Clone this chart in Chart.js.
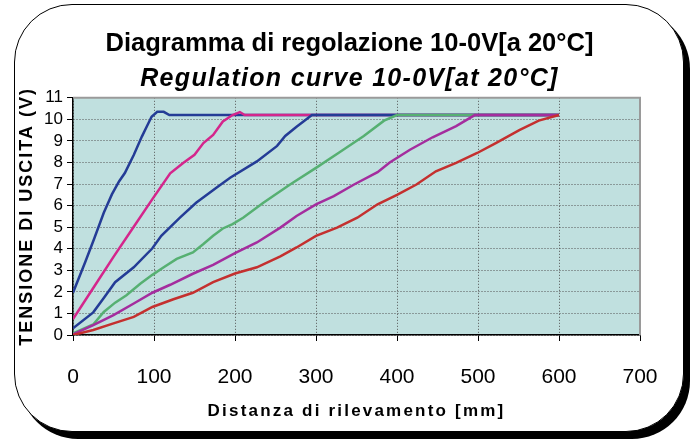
<!DOCTYPE html>
<html>
<head>
<meta charset="utf-8">
<script src="https://cdn.jsdelivr.net/npm/chart.js@4.4.0/dist/chart.umd.min.js"></script>
<style>
  html, body { margin: 0; padding: 0; background: #fff; }
  body { width: 699px; height: 441px; position: relative; overflow: hidden; }
  #card {
    position: absolute; left: 14px; top: 4px; width: 670px; height: 428px;
    box-sizing: border-box; border: 1.5px solid #000; border-radius: 58px;
    box-shadow: 6px 7px 0 #000; background: #fff;
  }
  #wrap { position: absolute; left: 0; top: 0; width: 699px; height: 441px; }
</style>
</head>
<body>
<div id="card"></div>
<div id="wrap"><canvas id="chart" width="699" height="441"></canvas></div>
<script>
// distance [mm] / output voltage [V], one pair per curve
const dist1 = [0, 15, 26, 38, 48, 57, 64, 75, 85, 92, 97, 104, 112, 119, 600];
const volt1 = [1.96, 3.37, 4.45, 5.67, 6.52, 7.13, 7.51, 8.35, 9.2, 9.74, 10.12, 10.35, 10.35, 10.2, 10.2];

const dist2 = [0, 25, 50, 75, 98, 120, 136, 150, 161, 173, 185, 197, 206, 212, 600];
const volt2 = [0.74, 2.18, 3.62, 5.02, 6.3, 7.5, 7.98, 8.36, 8.9, 9.28, 9.9, 10.2, 10.34, 10.2, 10.2];

const dist3 = [0, 25, 38, 52, 75, 98, 109, 132, 152, 177, 194, 227, 252, 262, 276, 295, 600];
const volt3 = [0.31, 1.05, 1.72, 2.45, 3.14, 4.02, 4.6, 5.44, 6.13, 6.83, 7.29, 8.05, 8.77, 9.23, 9.66, 10.2, 10.2];

const dist4 = [0, 25, 38, 52, 66, 83, 98, 112, 128, 148, 161, 173, 185, 197, 210, 235, 268, 300, 330, 359, 384, 400, 600];
const volt4 = [0.08, 0.49, 1.07, 1.5, 1.84, 2.38, 2.79, 3.14, 3.53, 3.83, 4.22, 4.6, 4.94, 5.14, 5.44, 6.13, 6.98, 7.75, 8.5, 9.23, 9.94, 10.2, 10.2];

const dist5 = [0, 25, 50, 75, 98, 120, 148, 173, 200, 227, 256, 276, 300, 322, 347, 376, 391, 416, 444, 473, 496, 600];
const volt5 = [0.03, 0.46, 0.92, 1.46, 1.96, 2.33, 2.84, 3.25, 3.8, 4.29, 4.98, 5.52, 6.06, 6.44, 6.98, 7.55, 8.0, 8.59, 9.17, 9.69, 10.2, 10.2];

const dist6 = [0, 25, 50, 75, 98, 124, 148, 173, 200, 227, 256, 276, 300, 326, 351, 376, 400, 424, 448, 473, 499, 522, 551, 575, 600];
const volt6 = [0, 0.23, 0.54, 0.84, 1.3, 1.66, 1.96, 2.45, 2.85, 3.14, 3.65, 4.06, 4.6, 4.98, 5.44, 6.06, 6.5, 6.98, 7.59, 7.98, 8.44, 8.9, 9.5, 9.94, 10.2];

const curveColors = ["#243c96", "#d4268c", "#243c96", "#56b072", "#a42d9e", "#c4302f"];

const titleText = "Diagramma di regolazione 10-0V[a 20°C]";
const subtitleText = "Regulation curve 10-0V[at 20°C]";
const xTitle = "Distanza di rilevamento [mm]";
const yTitle = "TENSIONE DI USCITA (V)";

const font = "'Liberation Sans', Arial, sans-serif";

const curves = [
  [dist1, volt1], [dist2, volt2], [dist3, volt3],
  [dist4, volt4], [dist5, volt5], [dist6, volt6],
];

const datasets = curves.map(([xs, ys], i) => ({
  data: xs.map((x, k) => ({ x, y: ys[k] })),
  borderColor: curveColors[i],
  borderWidth: 2.5,
  pointRadius: 0,
  tension: 0,
  fill: false,
  order: curves.length - i,
}));

// the original texts are spaced out a little, canvas can do that per draw call
function wrapSpacing(obj, method, spacing) {
  if (!obj || obj["_spaced_" + method]) return;
  const orig = obj[method];
  obj[method] = function (...args) {
    this.ctx.save();
    this.ctx.letterSpacing = spacing;
    orig.apply(this, args);
    this.ctx.restore();
  };
  obj["_spaced_" + method] = true;
}

const letterSpacing = {
  id: "letterSpacing",
  afterLayout(chart) {
    wrapSpacing(chart.scales.x, "drawTitle", "2.2px");
    wrapSpacing(chart.scales.y, "drawTitle", "2px");
    const sub = chart.boxes.find((b) => b.options && b.options.text === subtitleText);
    wrapSpacing(sub, "draw", "1.3px");
  },
};

const plotFrame = {
  id: "plotFrame",
  beforeDraw(chart) {
    const { ctx, chartArea: a } = chart;
    ctx.save();
    ctx.fillStyle = "#c0e0df";
    ctx.fillRect(a.left, a.top, a.right - a.left, a.bottom - a.top);
    ctx.restore();
  },
  beforeDatasetsDraw(chart) {
    const { ctx, chartArea: a } = chart;
    ctx.save();
    ctx.strokeStyle = "#9a9a9a";
    ctx.lineWidth = 2;
    ctx.beginPath();
    ctx.moveTo(a.left, a.top);
    ctx.lineTo(a.right, a.top);
    ctx.lineTo(a.right, a.bottom);
    ctx.stroke();
    ctx.restore();
  },
};

new Chart(document.getElementById("chart"), {
  type: "line",
  data: { datasets },
  plugins: [plotFrame, letterSpacing],
  options: {
    responsive: false,
    animation: false,
    devicePixelRatio: 1,
    layout: { padding: 0 },
    plugins: {
      legend: { display: false },
      tooltip: { enabled: false },
      title: {
        display: true,
        text: titleText,
        color: "#000",
        font: { family: font, size: 25.5, weight: "bold" },
        padding: { top: 29, bottom: 4.6 },
      },
      subtitle: {
        display: true,
        text: subtitleText,
        color: "#000",
        font: { family: font, size: 25, weight: "bold", style: "italic" },
        padding: { top: 0, bottom: 3.6 },
      },
    },
    scales: {
      x: {
        type: "linear",
        min: 0,
        max: 700,
        ticks: { stepSize: 100, color: "#000", padding: 24, font: { family: font, size: 21 } },
        grid: { color: "#555", tickColor: "#000", tickLength: 6, tickBorderDash: [] },
        border: { color: "#000", width: 1.5, dash: [1, 2] },
        title: {
          display: true,
          text: xTitle,
          color: "#000",
          font: { family: font, size: 17, weight: "bold" },
          padding: { top: 0, bottom: 19 },
        },
        afterFit(scale) { scale.height = 106; },
      },
      y: {
        min: 0,
        max: 11,
        ticks: { stepSize: 1, autoSkip: false, color: "#000", padding: 4, font: { family: font, size: 17 } },
        grid: { color: "#555", tickColor: "#000", tickLength: 6, tickBorderDash: [] },
        border: { color: "#000", width: 1.5, dash: [1, 2] },
        title: {
          display: true,
          text: yTitle,
          color: "#000",
          font: { family: font, size: 18, weight: "bold" },
          padding: { top: 16, bottom: 0 },
        },
        afterFit(scale) { scale.width = 73; },
      },
      // empty right-hand axis that only reserves the space right of the plot
      yRight: {
        position: "right",
        min: 0,
        max: 11,
        ticks: { display: false },
        grid: { display: false, drawTicks: false },
        border: { display: false },
        afterFit(scale) { scale.width = 59; },
      },
    },
  },
});
</script>
</body>
</html>
